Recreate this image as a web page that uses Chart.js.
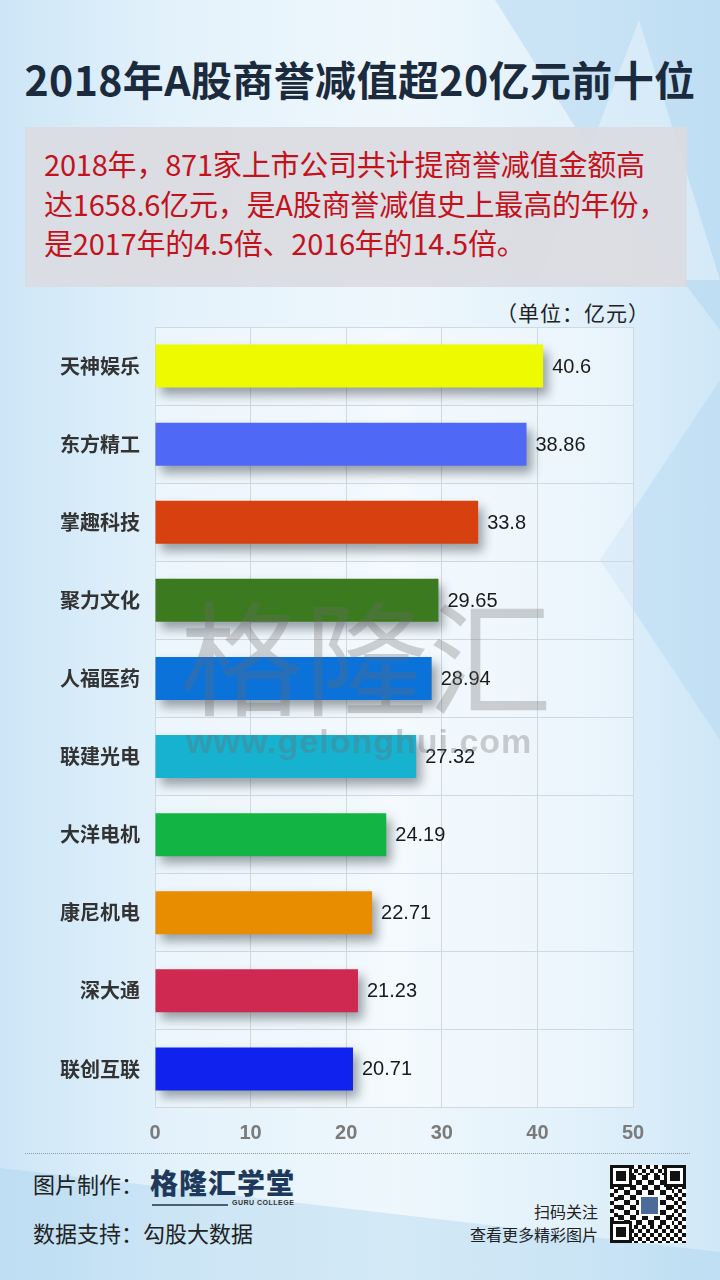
<!DOCTYPE html>
<html>
<head>
<meta charset="utf-8">
<script src="https://cdn.jsdelivr.net/npm/chart.js@4.4.1/dist/chart.umd.min.js"></script>
<style>
  html, body { margin: 0; padding: 0; }
  body { width: 720px; height: 1280px; position: relative; overflow: hidden;
    font-family: "Noto Sans CJK SC", "Noto Sans", sans-serif;
    background: linear-gradient(90deg, #cde6f7 0%, #e4f2fb 25%, #eef7fc 55%, #e2f1fb 80%, #cfe7f7 100%); }
  .tri { position: absolute; pointer-events: none; }
  #title { position: absolute; left: 0; width: 720px; top: 51px; text-align: center;
    font-size: 41px; font-weight: 700; color: #1b2a3c; letter-spacing: 0.4px; line-height: 54px; }
  #note { position: absolute; left: 25px; top: 127px; width: 662px; height: 160px;
    background: rgba(218, 219, 225, 0.92); box-sizing: border-box; padding: 17px 0 0 19px;
    color: #c3121c; font-size: 29px; line-height: 39.5px; letter-spacing: -0.2px; }
  #unit { position: absolute; left: 496px; top: 297px; font-size: 21px; color: #222; letter-spacing: 1px; }
  #wrap { position: absolute; left: 0; top: 300px; width: 720px; height: 850px; }
  #wm1 { position: absolute; left: 180px; top: 562px; font-size: 124px; font-weight: 400;
    color: rgba(105, 105, 105, 0.30); letter-spacing: 0px; pointer-events: none; line-height: 180px; }
  #wm2 { position: absolute; left: 186px; top: 722px; font-family: "Liberation Sans", Arial, sans-serif;
    font-size: 34px; font-weight: 700; color: rgba(110, 110, 110, 0.33); letter-spacing: 1px; pointer-events: none; }
  #dots { position: absolute; left: 25px; top: 1153px; width: 665px; border-top: 1px dotted #8a9aa6; }
  .foot { position: absolute; color: #222; white-space: nowrap; }
  #logo { position: absolute; left: 150px; top: 1162px; font-size: 28px; font-weight: 900; color: #1d3a5c; letter-spacing: 1px; }
  #logoLine { position: absolute; left: 152px; top: 1204px; width: 76px; border-top: 2px solid #4a5e74; }
  #logoSub { position: absolute; left: 232px; top: 1199px; font-family: "Liberation Sans", sans-serif; font-size: 7px; font-weight: 700; color: #333; letter-spacing: 0.5px; }
  #qr { position: absolute; left: 610px; top: 1165px; width: 76px; height: 78px; background:
    repeating-conic-gradient(#111 0 25%, #fff 0 50%) 0 0 / 8px 8px; }
  #qr::before { content: ""; position: absolute; inset: 10px 14px 18px 8px;
    background: repeating-conic-gradient(#fff 0 25%, #111 0 50%) 0 0 / 12px 10px; }
  .fp { position: absolute; width: 16px; height: 16px; border: 3px solid #111; background: #fff; box-shadow: inset 0 0 0 3px #fff, inset 0 0 0 8px #111; }
  #qrMid { position: absolute; left: 29px; top: 30px; width: 17px; height: 17px; background: #4b6b9a; border: 2px solid #fff; }
</style>
</head>
<body>
<div class="tri" style="left:470px;top:0;width:250px;height:330px;background:rgba(170,210,238,0.45);clip-path:polygon(10% 0,100% 0,100% 100%,60% 60%)"></div>
<div class="tri" style="left:540px;top:20px;width:180px;height:260px;background:rgba(255,255,255,0.35);clip-path:polygon(0 100%,55% 0,100% 100%)"></div>
<div class="tri" style="left:600px;top:380px;width:120px;height:360px;background:rgba(170,210,238,0.35);clip-path:polygon(100% 0,100% 100%,0 50%)"></div>
<div class="tri" style="left:0;top:1140px;width:720px;height:140px;background:rgba(160,205,235,0.35);clip-path:polygon(0 20%,100% 80%,100% 100%,0 100%)"></div>

<div id="title">2018年A股商誉减值超20亿元前十位</div>
<div id="note">2018年，871家上市公司共计提商誉减值金额高<br>达1658.6亿元，是A股商誉减值史上最高的年份，<br>是2017年的4.5倍、2016年的14.5倍。</div>
<div id="unit">（单位：亿元）</div>
<div id="wrap"><canvas id="chart"></canvas></div>
<div id="wm1">格隆汇</div>
<div id="wm2">www.gelonghui.com</div>
<div id="dots"></div>

<div class="foot" style="left:33px;top:1167px;font-size:22px;">图片制作：</div>
<div id="logo">格隆汇学堂</div>
<div id="logoLine"></div>
<div id="logoSub">GURU COLLEGE</div>
<div class="foot" style="left:33px;top:1216px;font-size:22px;">数据支持：勾股大数据</div>
<div class="foot" style="right:122px;top:1199px;font-size:16px;">扫码关注</div>
<div class="foot" style="right:122px;top:1222px;font-size:16px;">查看更多精彩图片</div>
<div id="qr">
  <div class="fp" style="left:0;top:0"></div>
  <div class="fp" style="right:0;top:0"></div>
  <div class="fp" style="left:0;bottom:0"></div>
  <div id="qrMid"></div>
</div>

<script>
'use strict';
// 2018年A股商誉减值前十 — 横向柱状图（单位：亿元）

const COMPANIES = ['天神娱乐', '东方精工', '掌趣科技', '聚力文化', '人福医药', '联建光电', '大洋电机', '康尼机电', '深大通', '联创互联'];
const IMPAIRMENT = [40.6, 38.86, 33.8, 29.65, 28.94, 27.32, 24.19, 22.71, 21.23, 20.71];
const BAR_COLORS = ['#eefa00', '#5068f6', '#d6410f', '#3b7a1f', '#0b72da', '#16b2cf', '#12b444', '#e88d00', '#cf2851', '#0f22ee'];
const X_TICKS = [0, 10, 20, 30, 40, 50];

const GRID = '#cfd9e2';

// 柱子投影 + 数值标签
const barShadow = {
  id: 'barShadow',
  beforeDraw(chart) {
    const { ctx, chartArea: a } = chart;
    ctx.save();
    ctx.fillStyle = 'rgba(255,255,255,0.35)';
    ctx.fillRect(a.left, a.top, a.right - a.left, a.bottom - a.top);
    ctx.restore();
  },
  beforeDatasetsDraw(chart) {
    const ctx = chart.ctx;
    ctx.save();
    ctx.shadowColor = 'rgba(40,50,60,0.45)';
    ctx.shadowBlur = 10;
    ctx.shadowOffsetX = 5;
    ctx.shadowOffsetY = 7;
  },
  afterDatasetsDraw(chart) {
    const ctx = chart.ctx;
    ctx.restore();
    ctx.save();
    ctx.font = '20px "Liberation Sans", Arial, sans-serif';
    ctx.fillStyle = '#1a1a1a';
    ctx.textBaseline = 'middle';
    chart.getDatasetMeta(0).data.forEach((bar, i) => {
      ctx.fillText(String(IMPAIRMENT[i]), bar.x + 9, bar.y + 1);
    });
    ctx.restore();
  },
};

new Chart(document.getElementById('chart'), {
  type: 'bar',
  data: {
    labels: COMPANIES,
    datasets: [{ data: IMPAIRMENT, backgroundColor: BAR_COLORS, borderWidth: 0, barPercentage: 0.55, categoryPercentage: 1 }],
  },
  options: {
    indexAxis: 'y',
    responsive: true, maintainAspectRatio: false, animation: false,
    layout: { padding: { left: 0, right: 87, top: 22, bottom: 0 } },
    plugins: { legend: { display: false }, tooltip: { enabled: false } },
    scales: {
      x: {
        min: 0, max: 50,
        afterBuildTicks: s => { s.ticks = X_TICKS.map(v => ({ value: v })); },
        afterFit: s => { s.height = 42; },
        grid: { color: GRID, drawTicks: false },
        border: { display: false },
        ticks: { color: '#7a7a7a', padding: 13, font: { family: '"Liberation Sans Narrow", "Liberation Sans", sans-serif', size: 20, weight: 'bold' } },
      },
      y: {
        afterFit: s => { s.width = 155; },
        grid: { color: GRID, drawTicks: false },
        border: { display: false },
        ticks: { color: '#333', padding: 15, font: { family: '"Noto Sans CJK SC", sans-serif', size: 20, weight: 'bold' } },
      },
    },
  },
  plugins: [barShadow],
});
</script>
</body>
</html>
